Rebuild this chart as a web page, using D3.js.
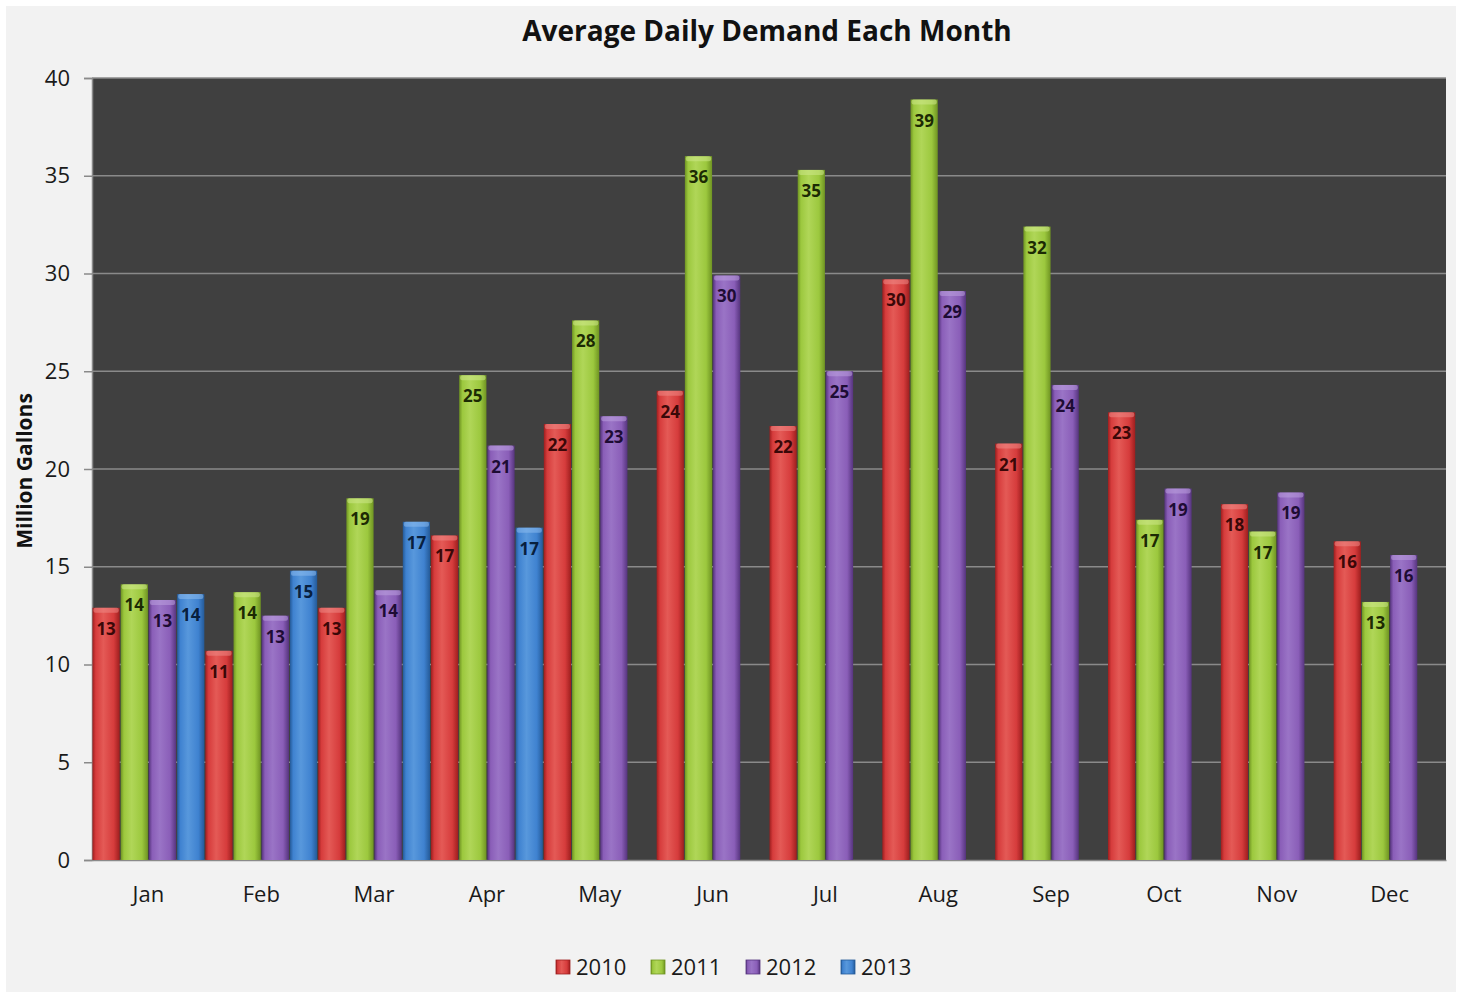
<!DOCTYPE html>
<html>
<head>
<meta charset="utf-8">
<script src="https://cdn.jsdelivr.net/npm/d3@7"></script>
<style>
  html, body { margin: 0; padding: 0; background: #ffffff; }
  svg { display: block; font-family: "Open Sans", "Liberation Sans", sans-serif; }
</style>
</head>
<body>
<div id="chart"></div>
<script>
// Average daily demand per month, by year (million gallons)
const months = ["Jan", "Feb", "Mar", "Apr", "May", "Jun", "Jul", "Aug", "Sep", "Oct", "Nov", "Dec"];
const years = ["2010", "2011", "2012", "2013"];
const values2010 = [12.9, 10.7, 12.9, 16.6, 22.3, 24.0, 22.2, 29.7, 21.3, 22.9, 18.2, 16.3];
const values2011 = [14.1, 13.7, 18.5, 24.8, 27.6, 36.0, 35.3, 38.9, 32.4, 17.4, 16.8, 13.2];
const values2012 = [13.3, 12.5, 13.8, 21.2, 22.7, 29.9, 25.0, 29.1, 24.3, 19.0, 18.8, 15.6];
const values2013 = [13.6, 14.8, 17.3, 17.0, null, null, null, null, null, null, null, null];
const yTicks = [0, 5, 10, 15, 20, 25, 30, 35, 40];

const seriesValues = [values2010, values2011, values2012, values2013];

// colours: edge / base / highlight / label text
const palette = [
  { edge: "#9e1e1e", base: "#d63c3c", light: "#e45a56", cap: "#ee8a86", text: "#3a0808" },
  { edge: "#6f9422", base: "#9cc83e", light: "#b0d658", cap: "#cde88a", text: "#1c2a04" },
  { edge: "#56347e", base: "#8a5eb8", light: "#9a74c6", cap: "#bca0de", text: "#1e0c34" },
  { edge: "#245a98", base: "#3f82d0", light: "#5898dc", cap: "#8cbcee", text: "#08203e" }
];

const W = 1460, H = 994;
const plot = { left: 92, right: 1446, top: 78, bottom: 860 };

const svg = d3.select("#chart").append("svg")
  .attr("width", W)
  .attr("height", H);

// gradients for the shaded bars
const defs = svg.append("defs");
palette.forEach((c, i) => {
  const g = defs.append("linearGradient")
    .attr("id", "bar" + i)
    .attr("x1", "0").attr("x2", "1").attr("y1", "0").attr("y2", "0");
  g.append("stop").attr("offset", "0%").attr("stop-color", c.edge);
  g.append("stop").attr("offset", "12%").attr("stop-color", c.base);
  g.append("stop").attr("offset", "40%").attr("stop-color", c.light);
  g.append("stop").attr("offset", "78%").attr("stop-color", c.base);
  g.append("stop").attr("offset", "100%").attr("stop-color", c.edge);
});

// panel background
svg.append("rect")
  .attr("x", 6).attr("y", 6)
  .attr("width", W - 10).attr("height", H - 8)
  .attr("fill", "#f2f2f2");

// scales
const x = d3.scaleBand()
  .domain(months)
  .range([plot.left, plot.right])
  .padding(0);

const xInner = d3.scaleBand()
  .domain(years)
  .range([0, x.bandwidth()])
  .padding(0);

const y = d3.scaleLinear()
  .domain([0, 40])
  .range([plot.bottom, plot.top]);

// plot area
svg.append("rect")
  .attr("x", plot.left).attr("y", plot.top)
  .attr("width", plot.right - plot.left)
  .attr("height", plot.bottom - plot.top)
  .attr("fill", "#404040");

// gridlines
svg.append("g")
  .selectAll("line")
  .data(yTicks.filter(d => d > 0))
  .join("line")
  .attr("x1", plot.left).attr("x2", plot.right)
  .attr("y1", d => y(d)).attr("y2", d => y(d))
  .attr("stroke", "#8a8a8a")
  .attr("stroke-width", 1.5);

// y axis
const yAxis = svg.append("g")
  .attr("transform", `translate(${plot.left},0)`)
  .call(d3.axisLeft(y).tickValues(yTicks).tickSize(8).tickPadding(14));
yAxis.select(".domain").attr("stroke", "#8a8a8a").attr("stroke-width", 1.5);
yAxis.selectAll(".tick line").attr("stroke", "#8a8a8a").attr("stroke-width", 1.5);
yAxis.selectAll(".tick text")
  .attr("font-size", 22)
  .attr("font-family", "Open Sans, sans-serif")
  .attr("fill", "#1a1a1a");

// x axis
const xAxis = svg.append("g")
  .attr("transform", `translate(0,${plot.bottom})`)
  .call(d3.axisBottom(x).tickSize(0).tickPadding(26));
xAxis.select(".domain").attr("stroke", "#8a8a8a").attr("stroke-width", 1.5);
xAxis.selectAll(".tick text")
  .attr("font-size", 22)
  .attr("font-family", "Open Sans, sans-serif")
  .attr("fill", "#1a1a1a");

// bars
const barData = [];
months.forEach((m, mi) => {
  years.forEach((yr, si) => {
    const v = seriesValues[si][mi];
    if (v != null) barData.push({ month: m, year: yr, series: si, value: v });
  });
});

const bars = svg.append("g").selectAll("g.bar")
  .data(barData)
  .join("g")
  .attr("class", "bar")
  .attr("transform", d => `translate(${x(d.month) + xInner(d.year)},0)`);

bars.append("rect")
  .attr("x", 0.5)
  .attr("y", d => y(d.value))
  .attr("width", xInner.bandwidth() - 1)
  .attr("height", d => y(0) - y(d.value))
  .attr("fill", d => `url(#bar${d.series})`);

// bevelled top
bars.append("rect")
  .attr("x", 1.5)
  .attr("y", d => y(d.value))
  .attr("width", xInner.bandwidth() - 3)
  .attr("height", 5)
  .attr("rx", 2)
  .attr("fill", d => palette[d.series].cap)
  .attr("opacity", 0.55);

// value labels
bars.append("text")
  .attr("x", xInner.bandwidth() / 2)
  .attr("y", d => y(d.value) + 27)
  .attr("text-anchor", "middle")
  .attr("font-size", 17)
  .attr("font-weight", "bold")
  .attr("fill", d => palette[d.series].text)
  .text(d => Math.round(d.value));

// title
svg.append("text")
  .attr("x", 767).attr("y", 41)
  .attr("text-anchor", "middle")
  .attr("font-size", 28)
  .attr("font-weight", "bold")
  .attr("fill", "#111")
  .text("Average Daily Demand Each Month");

// y axis title
svg.append("text")
  .attr("transform", `translate(32,${(plot.top + plot.bottom) / 2 + 2}) rotate(-90)`)
  .attr("text-anchor", "middle")
  .attr("font-size", 21)
  .attr("font-weight", "bold")
  .attr("fill", "#111")
  .text("Million Gallons");

// legend
const legendX = d3.scaleBand()
  .domain(years)
  .range([556, 936]);

const legend = svg.append("g").selectAll("g")
  .data(years)
  .join("g")
  .attr("transform", d => `translate(${legendX(d)},960)`);

legend.append("rect")
  .attr("width", 14).attr("height", 14)
  .attr("fill", (d, i) => `url(#bar${i})`)
  .attr("stroke", (d, i) => palette[i].edge)
  .attr("stroke-width", 0.8);

legend.append("text")
  .attr("x", 20).attr("y", 15)
  .attr("font-size", 22)
  .attr("fill", "#1a1a1a")
  .text(d => d);
</script>
</body>
</html>
